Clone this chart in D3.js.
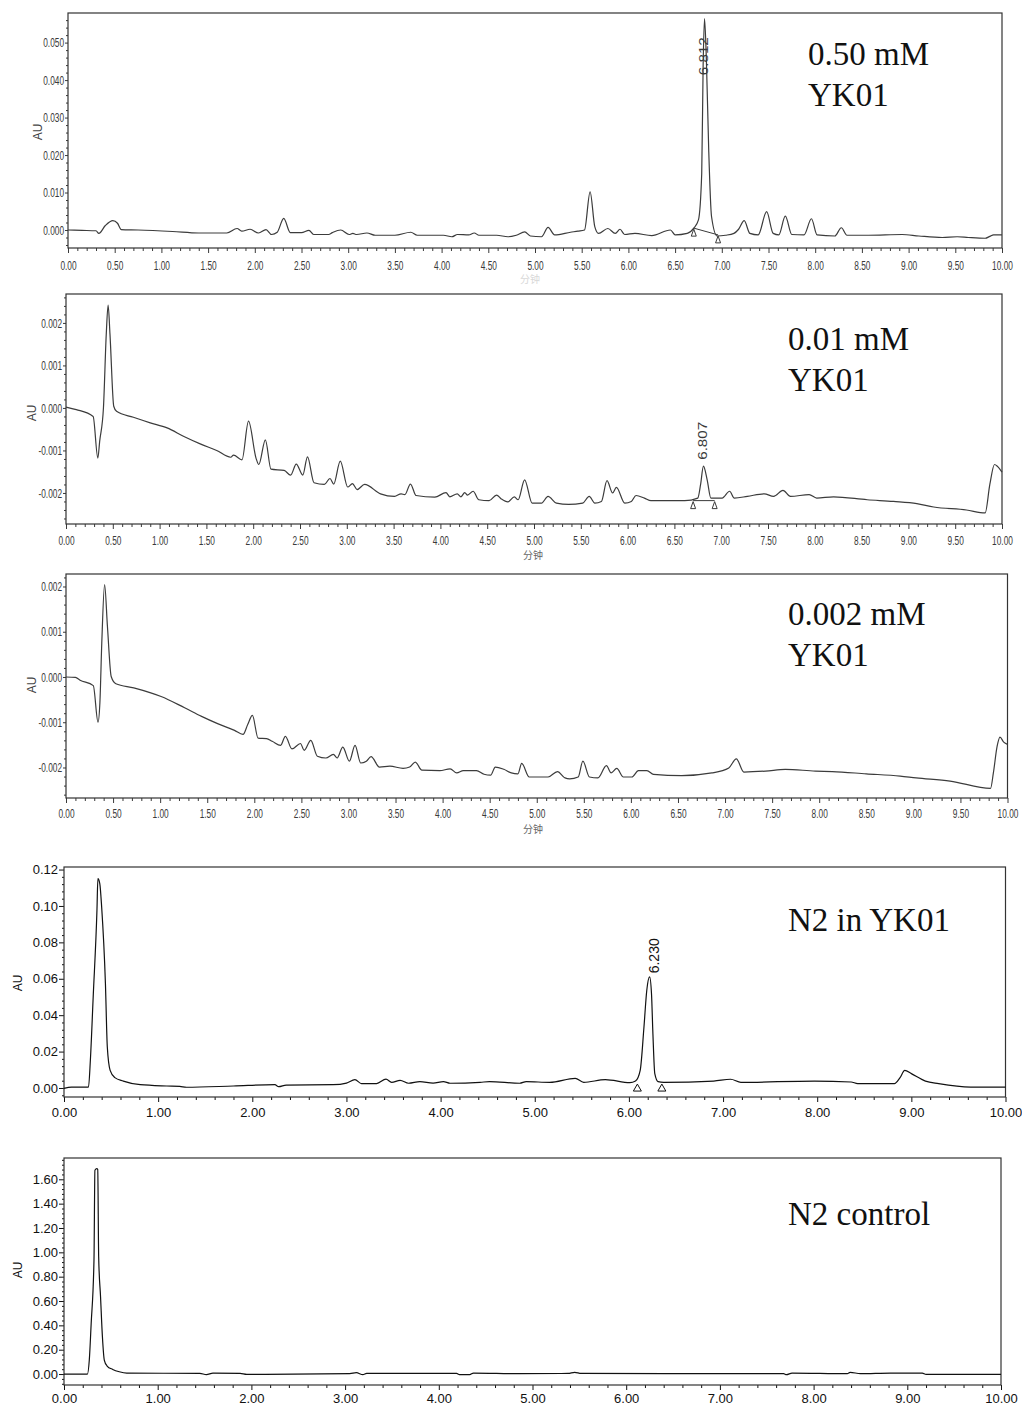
<!DOCTYPE html>
<html>
<head>
<meta charset="utf-8">
<title>HPLC chromatograms</title>
<script src="https://d3js.org/d3.v7.min.js"></script>
<style>
  body { margin: 0; background: #fff; }
  svg { display: block; }
  .anno { font-family: "Liberation Serif", "Times New Roman", serif; font-size: 33px; fill: #111; }
  .unit { font-family: "Liberation Sans", Arial, sans-serif; font-size: 12px; }
  .minute { font-family: "Noto Sans CJK SC", sans-serif; font-size: 10px; }
</style>
</head>
<body>
<svg width="1022" height="1406"></svg>
<script>
// ---- traces: [time (min), absorbance (AU)] ----
const trace050 = [
  [0.00, 0.0000], [0.15, -0.0001], [0.30, -0.0002], [0.33, -0.0009], [0.40, 0.0012], [0.48, 0.0025],
  [0.53, 0.0018], [0.57, 0.0001], [0.75, 0.0000], [1.12, -0.0004], [1.40, -0.0008], [1.70, -0.0008],
  [1.81, 0.0004], [1.86, -0.0003], [1.95, 0.0002], [2.04, -0.0008], [2.12, 0.0001], [2.18, -0.0012],
  [2.24, -0.0006], [2.31, 0.0031], [2.38, -0.0007], [2.50, -0.0007], [2.58, -0.0001], [2.63, -0.0012],
  [2.79, -0.0012], [2.83, -0.0007], [2.92, 0.0000], [3.01, -0.0012], [3.05, -0.0009], [3.09, -0.0012],
  [3.20, -0.0008], [3.29, -0.0014], [3.50, -0.0014], [3.67, -0.0006], [3.74, -0.0014], [4.02, -0.0014],
  [4.11, -0.0018], [4.17, -0.0012], [4.29, -0.0013], [4.35, -0.0008], [4.40, -0.0014], [4.59, -0.0014],
  [4.71, -0.0018], [4.80, -0.0014], [4.89, -0.0005], [4.95, -0.0016], [5.07, -0.0018], [5.14, 0.0007],
  [5.21, -0.0013], [5.38, -0.0006], [5.46, -0.0003], [5.53, 0.0000], [5.59, 0.0102], [5.64, 0.0009],
  [5.68, -0.0009], [5.78, 0.0004], [5.86, -0.0009], [5.91, 0.0002], [5.96, -0.0012], [6.07, -0.0009],
  [6.25, -0.0015], [6.45, 0.0000], [6.50, -0.0013], [6.63, -0.0009], [6.70, 0.0005], [6.75, 0.0027],
  [6.785, 0.0151], [6.80, 0.0436], [6.815, 0.0564], [6.835, 0.0453], [6.86, 0.0213], [6.89, 0.0036],
  [6.95, -0.0016], [7.04, -0.0014], [7.13, -0.0009], [7.18, 0.0002], [7.24, 0.0025], [7.30, -0.0009],
  [7.39, -0.0013], [7.48, 0.0049], [7.55, -0.0009], [7.61, -0.0013], [7.68, 0.0037], [7.75, -0.0012],
  [7.88, -0.0013], [7.96, 0.0030], [8.02, -0.0013], [8.21, -0.0016], [8.28, 0.0006], [8.34, -0.0014],
  [8.57, -0.0014], [8.93, -0.0012], [9.11, -0.0016], [9.36, -0.0020], [9.52, -0.0018], [9.64, -0.0020],
  [9.82, -0.0022], [9.87, -0.0017], [9.91, -0.0013], [10.00, -0.0013]
];

const trace001 = [
  [0.00, 0.00002], [0.11, -0.00004], [0.29, -0.00020], [0.34, -0.00118], [0.36, -0.00078], [0.40, 0.00000],
  [0.43, 0.00173], [0.45, 0.00242], [0.47, 0.00173], [0.51, 0.00004], [0.54, -0.00008], [0.72, -0.00022],
  [0.90, -0.00035], [1.08, -0.00047], [1.26, -0.00067], [1.44, -0.00085], [1.61, -0.00100], [1.76, -0.00116],
  [1.79, -0.00111], [1.88, -0.00122], [1.95, -0.00031], [2.03, -0.00118], [2.06, -0.00133], [2.13, -0.00075],
  [2.19, -0.00144], [2.33, -0.00147], [2.40, -0.00158], [2.46, -0.00132], [2.53, -0.00158], [2.58, -0.00115],
  [2.65, -0.00176], [2.76, -0.00180], [2.82, -0.00166], [2.86, -0.00179], [2.93, -0.00125], [3.01, -0.00186],
  [3.06, -0.00178], [3.11, -0.00192], [3.19, -0.00180], [3.36, -0.00202], [3.51, -0.00208], [3.58, -0.00202],
  [3.62, -0.00204], [3.68, -0.00179], [3.74, -0.00206], [3.94, -0.00210], [4.06, -0.00199], [4.10, -0.00209],
  [4.18, -0.00202], [4.22, -0.00209], [4.26, -0.00199], [4.29, -0.00205], [4.35, -0.00196], [4.41, -0.00216],
  [4.52, -0.00218], [4.60, -0.00205], [4.65, -0.00214], [4.72, -0.00221], [4.79, -0.00209], [4.83, -0.00216],
  [4.90, -0.00169], [4.98, -0.00224], [5.08, -0.00224], [5.15, -0.00208], [5.24, -0.00224], [5.37, -0.00227],
  [5.52, -0.00224], [5.59, -0.00208], [5.65, -0.00224], [5.72, -0.00220], [5.78, -0.00171], [5.84, -0.00200],
  [5.88, -0.00187], [5.97, -0.00224], [6.04, -0.00220], [6.09, -0.00206], [6.18, -0.00212], [6.25, -0.00218],
  [6.61, -0.00218], [6.75, -0.00212], [6.78, -0.00180], [6.81, -0.00137], [6.85, -0.00169], [6.89, -0.00212],
  [7.01, -0.00212], [7.09, -0.00196], [7.14, -0.00212], [7.28, -0.00208], [7.46, -0.00202], [7.56, -0.00208],
  [7.66, -0.00194], [7.74, -0.00208], [7.94, -0.00204], [8.02, -0.00212], [8.20, -0.00209], [8.56, -0.00216],
  [8.84, -0.00220], [9.09, -0.00225], [9.27, -0.00233], [9.62, -0.00240], [9.82, -0.00247], [9.87, -0.00180],
  [9.92, -0.00133], [9.95, -0.00137], [10.00, -0.00151]
];

const trace0002 = [
  [0.00, 0.00000], [0.10, -0.00001], [0.15, -0.00007], [0.29, -0.00019], [0.34, -0.00100], [0.36, -0.00057],
  [0.38, 0.00075], [0.41, 0.00204], [0.44, 0.00112], [0.48, 0.00001], [0.53, -0.00015], [0.72, -0.00024],
  [0.90, -0.00035], [1.01, -0.00043], [1.26, -0.00068], [1.44, -0.00087], [1.61, -0.00103], [1.79, -0.00118],
  [1.88, -0.00127], [1.93, -0.00105], [1.98, -0.00085], [2.04, -0.00135], [2.13, -0.00136], [2.19, -0.00142],
  [2.28, -0.00151], [2.33, -0.00131], [2.40, -0.00159], [2.49, -0.00147], [2.53, -0.00162], [2.60, -0.00140],
  [2.67, -0.00175], [2.76, -0.00179], [2.84, -0.00171], [2.88, -0.00179], [2.94, -0.00155], [3.01, -0.00186],
  [3.07, -0.00151], [3.13, -0.00190], [3.19, -0.00186], [3.24, -0.00176], [3.33, -0.00199], [3.44, -0.00197],
  [3.58, -0.00202], [3.65, -0.00199], [3.71, -0.00188], [3.78, -0.00206], [3.97, -0.00207], [4.08, -0.00203],
  [4.15, -0.00212], [4.22, -0.00207], [4.36, -0.00207], [4.44, -0.00215], [4.51, -0.00217], [4.56, -0.00199],
  [4.65, -0.00204], [4.73, -0.00212], [4.80, -0.00214], [4.84, -0.00191], [4.92, -0.00221], [5.12, -0.00221],
  [5.22, -0.00209], [5.30, -0.00223], [5.35, -0.00225], [5.44, -0.00221], [5.49, -0.00186], [5.56, -0.00221],
  [5.65, -0.00223], [5.74, -0.00196], [5.79, -0.00212], [5.85, -0.00202], [5.92, -0.00221], [6.01, -0.00221],
  [6.08, -0.00207], [6.17, -0.00207], [6.24, -0.00215], [6.54, -0.00218], [6.86, -0.00212], [7.04, -0.00201],
  [7.12, -0.00181], [7.20, -0.00210], [7.43, -0.00208], [7.64, -0.00204], [7.96, -0.00208], [8.14, -0.00209],
  [8.50, -0.00214], [8.86, -0.00219], [9.03, -0.00223], [9.39, -0.00230], [9.82, -0.00246], [9.85, -0.00212],
  [9.89, -0.00153], [9.92, -0.00133], [9.96, -0.00144], [10.00, -0.00149]
];

const traceN2YK = [
  [0.00, -0.0002], [0.08, 0.0005], [0.26, 0.0005], [0.28, 0.0152], [0.31, 0.0500], [0.35, 0.0976],
  [0.36, 0.1150], [0.38, 0.1123], [0.40, 0.0994], [0.44, 0.0573], [0.46, 0.0225], [0.49, 0.0097],
  [0.54, 0.0057], [0.63, 0.0038], [0.81, 0.0018], [1.09, 0.0011], [1.23, 0.0009], [1.30, 0.0004],
  [1.80, 0.0011], [2.24, 0.0018], [2.28, 0.0007], [2.36, 0.0016], [2.86, 0.0018], [3.00, 0.0027],
  [3.09, 0.0046], [3.16, 0.0024], [3.32, 0.0024], [3.42, 0.0049], [3.48, 0.0031], [3.57, 0.0042],
  [3.66, 0.0026], [3.78, 0.0035], [3.92, 0.0027], [4.03, 0.0035], [4.10, 0.0026], [4.42, 0.0031],
  [4.52, 0.0035], [4.84, 0.0026], [4.91, 0.0035], [5.16, 0.0031], [5.43, 0.0053], [5.52, 0.0031],
  [5.75, 0.0046], [6.01, 0.0029], [6.07, 0.0038], [6.12, 0.0097], [6.16, 0.0335], [6.19, 0.0537],
  [6.22, 0.0610], [6.24, 0.0518], [6.255, 0.0298], [6.275, 0.0079], [6.31, 0.0035], [6.37, 0.0031],
  [6.90, 0.0038], [7.08, 0.0048], [7.19, 0.0031], [7.97, 0.0038], [8.36, 0.0033], [8.43, 0.0024],
  [8.82, 0.0024], [8.88, 0.0057], [8.93, 0.0097], [9.00, 0.0079], [9.15, 0.0038], [9.29, 0.0024],
  [9.63, 0.0005], [10.00, 0.0005]
];

const traceCtl = [
  [0.00, 0.000], [0.25, 0.000], [0.27, 0.115], [0.29, 0.416], [0.32, 0.936], [0.33, 1.674],
  [0.35, 1.688], [0.36, 1.680], [0.37, 0.963], [0.39, 0.635], [0.41, 0.306], [0.43, 0.115],
  [0.46, 0.066], [0.52, 0.038], [0.59, 0.019], [0.67, 0.008], [1.45, 0.005], [1.52, -0.005],
  [1.59, 0.008], [1.88, 0.005], [1.95, -0.003], [3.05, 0.003], [3.12, 0.011], [3.19, -0.005],
  [3.23, 0.005], [4.19, 0.005], [4.22, -0.005], [4.33, -0.005], [4.37, 0.008], [4.86, 0.003],
  [5.38, 0.005], [5.45, 0.014], [5.52, 0.005], [7.68, 0.003], [7.71, -0.005], [7.77, 0.008],
  [8.36, 0.003], [8.39, 0.014], [8.50, 0.003], [8.82, 0.008], [9.16, 0.008], [9.20, -0.003],
  [10.00, -0.003]
];

// ---- axis ticks ----
const xTicksHalf = [0, 0.5, 1, 1.5, 2, 2.5, 3, 3.5, 4, 4.5, 5, 5.5, 6, 6.5, 7, 7.5, 8, 8.5, 9, 9.5, 10];
const xTicksWhole = [0, 1, 2, 3, 4, 5, 6, 7, 8, 9, 10];
const yTicks050 = [0, 0.01, 0.02, 0.03, 0.04, 0.05];
const yTicksSmall = [-0.002, -0.001, 0, 0.001, 0.002];
const yTicksN2 = [0, 0.02, 0.04, 0.06, 0.08, 0.10, 0.12];
const yTicksCtl = [0, 0.2, 0.4, 0.6, 0.8, 1.0, 1.2, 1.4, 1.6];

// ---- labels ----
const sampleNames = [["0.50 mM", "YK01"], ["0.01 mM", "YK01"], ["0.002 mM", "YK01"], ["N2 in YK01"], ["N2 control"]];
const peakTimes = ["6.812", "6.807", null, "6.230", null];
// integration start/end marks [t, AU] per panel
const integration = [
  [[6.70, 0.0005], [6.96, -0.0013]],
  [[6.70, -0.00218], [6.93, -0.00218]],
  null,
  [[6.09, 0.0027], [6.35, 0.0027]],
  null
];

const svg = d3.select("svg");

const panels = [
  { trace: trace050, box: {l: 68, r: 1002, t: 13, b: 248}, y: [-0.0048, 0.0579], yTicks: yTicks050, yMinor: 0.002, dec: 3,
    xTicks: xTicksHalf, xMinor: 0.1, narrow: true, xPad: 8, anno: [808, 65, 41], au: [38, 132], minute: [530, 283, "#d8d8d8"],
    peakLab: {at: 0.0413, len: 38, size: 12, dx: 0}, tri: {w: 5, h: 7, drawLine: true} },
  { trace: trace001, box: {l: 66, r: 1002, t: 294, b: 524}, y: [-0.00273, 0.00268], yTicks: yTicksSmall, yMinor: 0.0002, dec: 3,
    xTicks: xTicksHalf, xMinor: 0.1, narrow: true, xPad: 7, anno: [788, 350, 41], au: [32, 413], minute: [533, 559, "#666"],
    peakLab: {at: -0.00122, len: 38, size: 12, dx: 0}, tri: {w: 5, h: 7, drawLine: true} },
  { trace: trace0002, box: {l: 66, r: 1007.5, t: 574, b: 798}, y: [-0.002674, 0.002276], yTicks: yTicksSmall, yMinor: 0.0002, dec: 3,
    xTicks: xTicksHalf, xMinor: 0.1, narrow: true, xPad: 6, anno: [788, 625, 41], au: [32, 685], minute: [533, 833, "#666"] },
  { trace: traceN2YK, box: {l: 64, r: 1005.5, t: 867, b: 1097}, y: [-0.00495, 0.1214], yTicks: yTicksN2, yMinor: 0.004, dec: 2,
    xTicks: xTicksWhole, xMinor: 0.2, narrow: false, xPad: 6, anno: [788, 931, 0], au: [18, 983],
    peakLab: {at: 0.063, len: 35, size: 14, dx: 4}, tri: {w: 8, h: 7, drawLine: false} },
  { trace: traceCtl, box: {l: 64, r: 1001, t: 1158, b: 1385}, y: [-0.09, 1.775], yTicks: yTicksCtl, yMinor: 0.04, dec: 2,
    xTicks: xTicksWhole, xMinor: 0.2, narrow: false, xPad: 4, anno: [788, 1225, 0], au: [18, 1270] }
];

// squeeze tick labels horizontally (the instrument software uses a very narrow face)
function squeeze(sel, k) {
  sel.each(function() {
    const t = d3.select(this);
    const x0 = +t.attr("x") || 0;
    t.attr("x", x0 / k).attr("transform", `scale(${k},1)`);
  });
}

panels.forEach((p, i) => {
  const b = p.box;
  const ink = p.narrow ? "#3a3a3a" : "#111";
  const x = d3.scaleLinear().domain([0, 10]).range([b.l, b.r]);
  const y = d3.scaleLinear().domain(p.y).range([b.b, b.t]);
  const g = svg.append("g");

  // minor ticks
  const xMinorVals = d3.range(0, 10.0001, p.xMinor).filter(v => !p.xTicks.some(t => Math.abs(t - v) < 1e-6));
  g.append("g").attr("transform", `translate(0,${b.b})`)
    .call(d3.axisBottom(x).tickValues(xMinorVals).tickSize(3).tickFormat(""))
    .call(a => a.select(".domain").remove())
    .selectAll("line").attr("stroke", ink);
  const yMinorVals = d3.range(Math.ceil(p.y[0] / p.yMinor) * p.yMinor, p.y[1], p.yMinor)
    .filter(v => !p.yTicks.some(t => Math.abs(t - v) < p.yMinor / 10));
  g.append("g").attr("transform", `translate(${b.l},0)`)
    .call(d3.axisLeft(y).tickValues(yMinorVals).tickSize(2).tickFormat(""))
    .call(a => a.select(".domain").remove())
    .selectAll("line").attr("stroke", ink);

  // major axes
  const xa = g.append("g").attr("transform", `translate(0,${b.b})`)
    .call(d3.axisBottom(x).tickValues(p.xTicks).tickSize(5).tickPadding(p.xPad).tickFormat(d => d.toFixed(2)))
    .call(a => a.select(".domain").remove());
  const ya = g.append("g").attr("transform", `translate(${b.l},0)`)
    .call(d3.axisLeft(y).tickValues(p.yTicks).tickSize(p.narrow ? 3 : 5).tickPadding(1)
      .tickFormat(d => (Math.abs(d) < 1e-12 ? 0 : d).toFixed(p.dec)))
    .call(a => a.select(".domain").remove());
  [xa, ya].forEach(a => {
    a.selectAll("line").attr("stroke", ink);
    a.selectAll("text").attr("fill", ink)
      .style("font-family", "'Liberation Sans', Arial, sans-serif").style("font-size", "13px");
    if (p.narrow) squeeze(a.selectAll("text"), 0.64);
  });

  // frame
  g.append("rect").attr("x", b.l).attr("y", b.t).attr("width", b.r - b.l).attr("height", b.b - b.t)
    .attr("fill", "none").attr("stroke", "#333").attr("stroke-width", 1.2);

  // trace
  const line = d3.line().x(d => x(d[0])).y(d => y(d[1])).curve(d3.curveMonotoneX);
  g.append("path").datum(p.trace).attr("d", line)
    .attr("fill", "none").attr("stroke", p.narrow ? "#3c3c3c" : "#111").attr("stroke-width", 1.2);

  // integration marks
  const marks = integration[i];
  if (marks) {
    if (p.tri.drawLine) {
      g.append("line").attr("x1", x(marks[0][0])).attr("y1", y(marks[0][1]))
        .attr("x2", x(marks[1][0])).attr("y2", y(marks[1][1])).attr("stroke", ink).attr("stroke-width", 1);
    }
    g.selectAll(".tri").data(marks).join("path")
      .attr("d", d => {
        const cx = x(d[0]), cy = y(d[1]) + 1;
        return `M${cx},${cy}L${cx - p.tri.w / 2},${cy + p.tri.h}L${cx + p.tri.w / 2},${cy + p.tri.h}Z`;
      })
      .attr("fill", "#fff").attr("stroke", ink).attr("stroke-width", 1);
  }

  // peak retention-time label
  if (peakTimes[i]) {
    const px = x(+peakTimes[i]) + p.peakLab.dx, py = y(p.peakLab.at);
    g.append("text").attr("transform", `translate(${px},${py}) rotate(-90)`)
      .attr("dy", "0.35em").attr("fill", ink)
      .style("font-family", "'Liberation Sans', Arial, sans-serif").style("font-size", p.peakLab.size + "px")
      .attr("textLength", p.peakLab.len).attr("lengthAdjust", "spacingAndGlyphs")
      .text(peakTimes[i]);
  }

  // AU label
  g.append("text").attr("class", "unit").attr("transform", `translate(${p.au[0]},${p.au[1]}) rotate(-90)`)
    .attr("text-anchor", "middle").attr("dy", "0.35em").attr("fill", p.narrow ? "#444" : "#111").text("AU");

  // minutes label
  if (p.minute) {
    g.append("text").attr("class", "minute").attr("x", p.minute[0]).attr("y", p.minute[1])
      .attr("text-anchor", "middle").attr("fill", p.minute[2]).text("分钟");
  }

  // sample annotation
  sampleNames[i].forEach((s, k) => {
    g.append("text").attr("class", "anno").attr("x", p.anno[0]).attr("y", p.anno[1] + k * p.anno[2]).text(s);
  });
});
</script>
</body>
</html>
